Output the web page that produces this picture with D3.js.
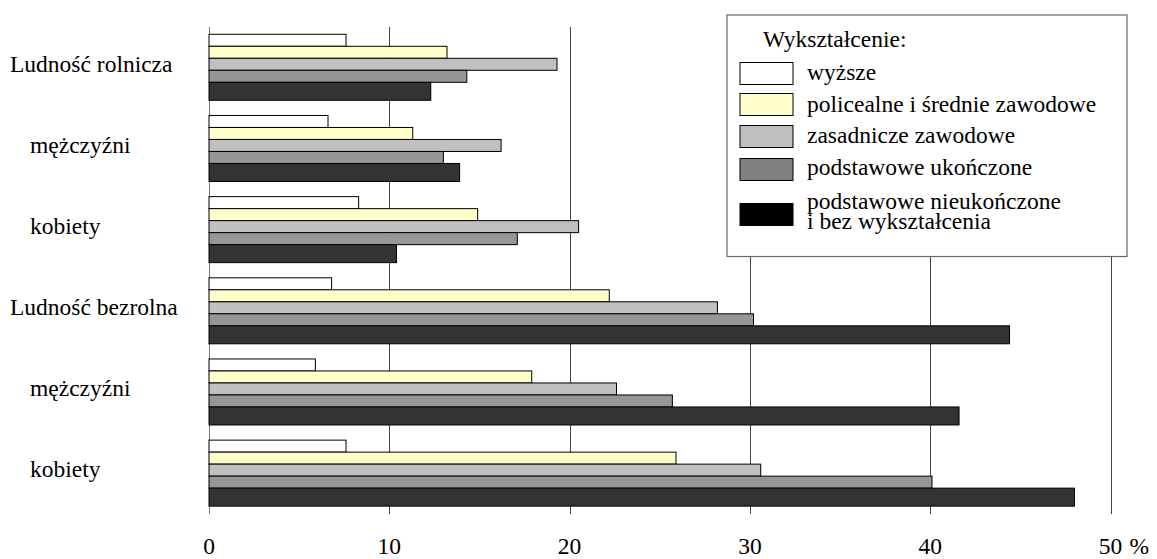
<!DOCTYPE html>
<html>
<head>
<meta charset="utf-8">
<script src="https://cdn.jsdelivr.net/npm/d3@7/dist/d3.min.js"></script>
<style>
html,body{margin:0;padding:0;background:#fff;}
svg{display:block;}
</style>
</head>
<body>
<svg id="chart" width="1157" height="559"></svg>
<script>
const categories = ["Ludność rolnicza","mężczyźni","kobiety","Ludność bezrolna","mężczyźni","kobiety"];
const indented = [false,true,true,false,true,true];
const seriesNames = ["wyższe","policealne i średnie zawodowe","zasadnicze zawodowe","podstawowe ukończone","podstawowe nieukończone|i bez wykształcenia"];
const wyzsze       = [7.6, 6.6, 8.3, 6.8, 5.9, 7.6];
const policealne   = [13.2, 11.3, 14.9, 22.2, 17.9, 25.9];
const zasadnicze   = [19.3, 16.2, 20.5, 28.2, 22.6, 30.6];
const podstawowe   = [14.3, 13.0, 17.1, 30.2, 25.7, 40.1];
const nieukonczone = [12.3, 13.9, 10.4, 44.4, 41.6, 48.0];
const ticks = [0,10,20,30,40,50];
const legendTitle = "Wykształcenie:";

const FONT = "Liberation Serif";
const series = [wyzsze, policealne, zasadnicze, podstawowe, nieukonczone];
const fills = ["#ffffff","#ffffcc","#c0c0c0","#969696","#333333"];
const legendFills = ["#ffffff","#ffffcc","#c0c0c0","#808080","#000000"];
const thickness = [1,1,1,1,1.5];

const svg = d3.select("#chart").attr("font-family", FONT);
const x = d3.scaleLinear().domain([0,50]).range([209,1110.5]);
const y = d3.scaleBand().domain(d3.range(categories.length)).range([27,514]).padding(0);
const cum = [0]; thickness.forEach((t,i)=>cum.push(cum[i]+t));
const inner = d3.scaleLinear().domain([0, cum[cum.length-1]]).range([7.3, 73.3]);

// grid lines
svg.append("g").selectAll("line").data(ticks).join("line")
  .attr("x1", d=>Math.round(x(d))+0.5).attr("x2", d=>Math.round(x(d))+0.5)
  .attr("y1", 27).attr("y2", 514)
  .attr("stroke", d=>d===0?"#777":"#444").attr("stroke-width", 1);

// bars
series.forEach((vals, s) => {
  svg.append("g").selectAll("rect").data(vals).join("rect")
    .attr("x", x(0))
    .attr("y", (d,i)=>y(i)+inner(cum[s]))
    .attr("width", d=>x(d)-x(0))
    .attr("height", inner(cum[s+1])-inner(cum[s]))
    .attr("fill", fills[s])
    .attr("stroke", "#000").attr("stroke-width", 1);
});

// category labels
svg.append("g").selectAll("text").data(categories).join("text")
  .attr("font-family", FONT)
  .attr("x", (d,i)=>indented[i]?30:10)
  .attr("y", (d,i)=>y(i)+y.bandwidth()/2+4)
  .attr("font-size", 23.5)
  .text(d=>d);

// tick labels
svg.append("g").selectAll("text").data(ticks).join("text")
  .attr("font-family", FONT)
  .attr("x", d=>x(d)).attr("y", 554)
  .attr("text-anchor","middle").attr("font-size", 23.5)
  .text(d=>d);
svg.append("text").attr("font-family", FONT).attr("x", x(50)+19).attr("y", 554).attr("font-size", 23.5).text("%");

// legend
const lg = svg.append("g");
lg.append("rect").attr("x",727).attr("y",15).attr("width",400).attr("height",241.5)
  .attr("fill","#fff").attr("stroke","#666").attr("stroke-width",1.2);
lg.append("text").attr("font-family", FONT).attr("x",763).attr("y",47).attr("font-size",23.5).text(legendTitle);
const swTop = [62.5, 93.5, 125.5, 158.5, 203.5];
const swH = 22;
const txtY = [[80],[111.5],[143],[175],[209,229]];
seriesNames.forEach((name,i)=>{
  lg.append("rect").attr("x",740).attr("y",swTop[i]).attr("width",53).attr("height",swH)
    .attr("fill",legendFills[i]).attr("stroke","#000").attr("stroke-width",1);
  name.split("|").forEach((line,j)=>{
    lg.append("text").attr("font-family", FONT).attr("x",807).attr("y",txtY[i][j]).attr("font-size",23.5).text(line);
  });
});
</script>
</body>
</html>
